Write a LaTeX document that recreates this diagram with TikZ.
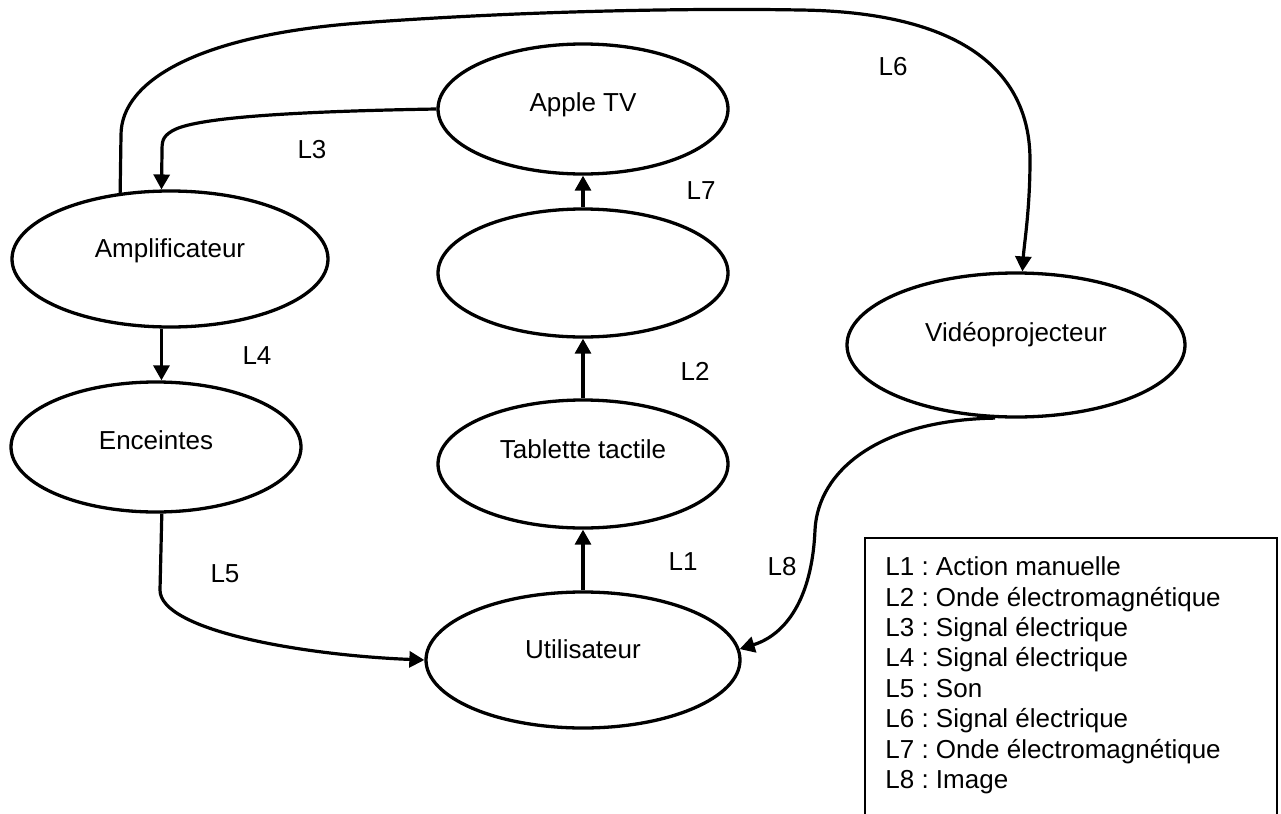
\documentclass[tikz,border=0pt]{standalone}
\usepackage{fontspec}
\setmainfont{Liberation Sans}
\usetikzlibrary{shapes.geometric,arrows.meta}
\frenchspacing
\begin{document}
\begin{tikzpicture}[x=0.5pt,y=-0.5pt,
  bubble/.style={draw,ellipse,line width=1.65pt,inner sep=0pt,
    font=\fontsize{13pt}{15.2pt}\selectfont,text height=9.3pt,text depth=0pt},
  conn/.style={line width=1.6pt,-{Triangle[length=7.5pt,width=8pt]}},
  lbl/.style={inner sep=0pt,font=\fontsize{13pt}{15.2pt}\selectfont,
    text height=9.3pt,text depth=0pt}]
\useasboundingbox (0,0) rectangle (1281,814);

% ellipses
\node[bubble,minimum width=145pt,minimum height=65pt] (apple) at (583,109) {\raisebox{3.5pt}{Apple TV}};
\node[bubble,minimum width=145pt,minimum height=64pt] (blank) at (583,273) {};
\node[bubble,minimum width=158pt,minimum height=68pt] (amp) at (170,259) {\raisebox{5.5pt}{Amplificateur}};
\node[bubble,minimum width=145pt,minimum height=65pt] (enc) at (156,447) {\raisebox{3.5pt}{Enceintes}};
\node[bubble,minimum width=145pt,minimum height=64pt] (tab) at (583,464) {\raisebox{7.5pt}{Tablette tactile}};
\node[bubble,minimum width=157pt,minimum height=68pt] (utl) at (583,660) {\raisebox{5.5pt}{Utilisateur}};
\node[bubble,minimum width=169pt,minimum height=72pt] (vid) at (1016,345) {\raisebox{6.5pt}{Vidéoprojecteur}};

% connectors
\draw[conn] (utl.north) -- (tab.south);
\draw[conn] (tab.north) -- (blank.south);
\draw[conn] (blank.north) -- (apple.south);
\draw[conn] (apple.west) .. controls (260,112) and (190,120) .. (172,131)
  .. controls (162,137) and (162,142) .. (162,152) -- (amp.97);
\draw[conn] (amp.-97) -- (amp.-97 |- enc.north);
\draw[conn] (enc.-85) -- (160,590) .. controls (160,630) and (300,655) .. (utl.west);
\draw[conn] (amp.127) -- (121,135) .. controls (121,80) and (200,35) .. (360,23)
  .. controls (520,11) and (690,8) .. (800,10)
  .. controls (960,12) and (1030,70) .. (1030,160)
  .. controls (1030,210) and (1024,245) .. (vid.85);
\draw[conn] (vid.-106) .. controls (880,420) and (818,470) .. (815,530)
  .. controls (812,600) and (785,635) .. (utl.4.4);

% link labels
\node[lbl] (l1) at (683,561) {L1};
\node[lbl] (l2) at (695,371) {L2};
\node[lbl] (l3) at (312,149) {L3};
\node[lbl] (l4) at (257,355) {L4};
\node[lbl] (l5) at (225,573) {L5};
\node[lbl] (l6) at (893,66) {L6};
\node[lbl] (l7) at (701,190) {L7};
\node[lbl] (l8) at (782,566) {L8};

% legend
\draw[line width=1pt] (865,820) -- (865,538) -- (1277,538) -- (1277,820);
\node[anchor=north west,inner sep=0pt,align=left,
  font=\fontsize{13pt}{15.2pt}\selectfont] (legend) at (885,556.5)
  {L1 : Action manuelle\\
   L2 : Onde électromagnétique\\
   L3 : Signal électrique\\
   L4 : Signal électrique\\
   L5 : Son\\
   L6 : Signal électrique\\
   L7 : Onde électromagnétique\\
   L8 : Image};
\end{tikzpicture}
\end{document}
